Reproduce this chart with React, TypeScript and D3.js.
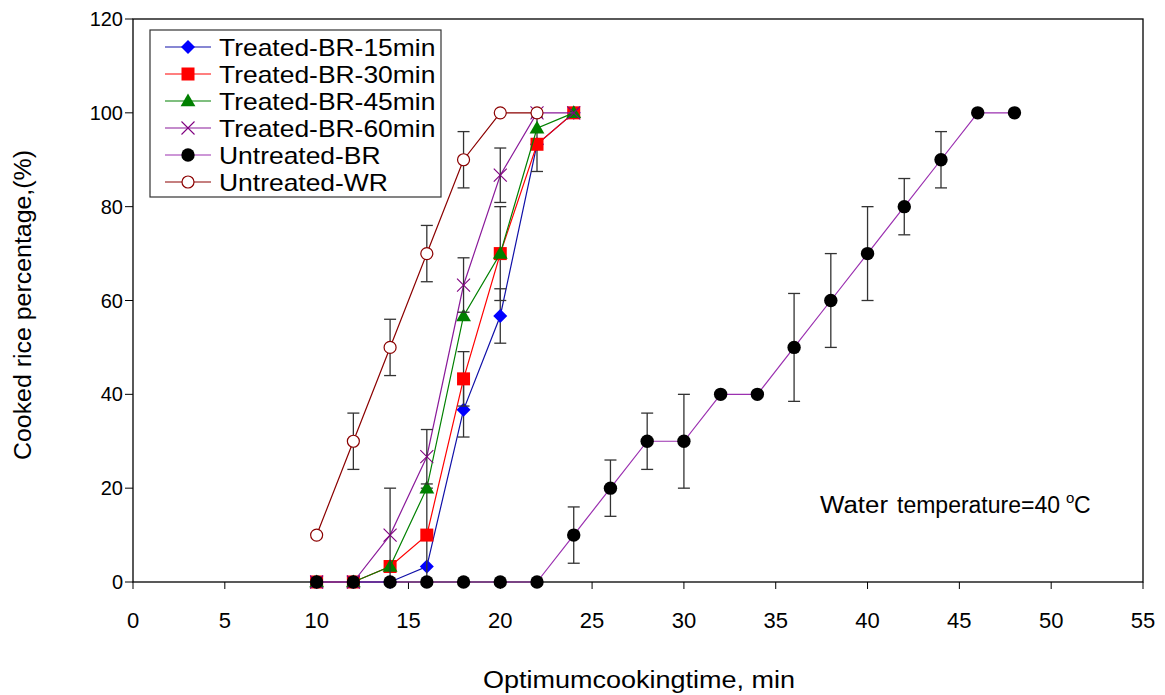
import React from 'react';
import * as d3 from 'd3';

// cooking time (min) for each series
const treatedTimes = [10, 12, 14, 16, 18, 20, 22, 24];
const wrTimes = [10, 12, 14, 16, 18, 20, 22];
const brTimes = [10, 12, 14, 16, 18, 20, 22, 24, 26, 28, 30, 32, 34, 36, 38, 40, 42, 44, 46, 48];

// cooked rice percentage and error (+/-)
const br15 = [0, 0, 0, 3.3, 36.7, 56.7, 93.3, 100];
const br15Err = [0, 0, 0, 0, 5.8, 5.8, 0, 0];
const br30 = [0, 0, 3.3, 10, 43.3, 70, 93.3, 100];
const br30Err = [0, 0, 0, 10, 5.8, 10, 5.8, 0];
const br45 = [0, 0, 3.3, 20, 56.7, 70, 96.7, 100];
const br45Err = [0, 0, 0, 0, 0, 0, 0, 0];
const br60 = [0, 0, 10, 26.7, 63.3, 86.7, 100, 100];
const br60Err = [0, 0, 10, 5.8, 5.8, 5.8, 0, 0];
const untreatedBR = [0, 0, 0, 0, 0, 0, 0, 10, 20, 30, 30, 40, 40, 50, 60, 70, 80, 90, 100, 100];
const untreatedBRErr = [0, 0, 0, 0, 0, 0, 0, 6, 6, 6, 10, 0, 0, 11.5, 10, 10, 6, 6, 0, 0];
const untreatedWR = [10, 30, 50, 70, 90, 100, 100];
const untreatedWRErr = [0, 6, 6, 6, 6, 0, 0];

const xTicks = [0, 5, 10, 15, 20, 25, 30, 35, 40, 45, 50, 55];
const yTicks = [0, 20, 40, 60, 80, 100, 120];

const series = [
  { name: 'Treated-BR-15min', x: treatedTimes, y: br15, err: br15Err, line: '#1010a8', color: '#0000ff', marker: 'diamond' },
  { name: 'Treated-BR-30min', x: treatedTimes, y: br30, err: br30Err, line: '#ff0000', color: '#ff0000', marker: 'square' },
  { name: 'Treated-BR-45min', x: treatedTimes, y: br45, err: br45Err, line: '#008000', color: '#008000', marker: 'triangle' },
  { name: 'Treated-BR-60min', x: treatedTimes, y: br60, err: br60Err, line: '#8a1a9a', color: '#800080', marker: 'cross' },
  { name: 'Untreated-BR', x: brTimes, y: untreatedBR, err: untreatedBRErr, line: '#9b30b0', color: '#000000', marker: 'dot' },
  { name: 'Untreated-WR', x: wrTimes, y: untreatedWR, err: untreatedWRErr, line: '#8b0000', color: '#8b0000', marker: 'ring' },
];

const drawOrder = [0, 1, 2, 3, 5, 4];

function Marker({ kind, cx, cy, color }: { kind: string; cx: number; cy: number; color: string }) {
  if (kind === 'diamond') {
    return <path d={`M${cx},${cy - 7}L${cx + 7},${cy}L${cx},${cy + 7}L${cx - 7},${cy}Z`} fill={color} />;
  }
  if (kind === 'square') {
    return <rect x={cx - 6.5} y={cy - 6.5} width={13} height={13} fill={color} />;
  }
  if (kind === 'triangle') {
    const tri = d3.symbol().type(d3.symbolTriangle).size(95)();
    return <path d={tri as string} transform={`translate(${cx},${cy + 1})`} fill={color} />;
  }
  if (kind === 'cross') {
    return (
      <g stroke={color} strokeWidth={1.1}>
        <line x1={cx - 6.5} y1={cy - 6.5} x2={cx + 6.5} y2={cy + 6.5} />
        <line x1={cx - 6.5} y1={cy + 6.5} x2={cx + 6.5} y2={cy - 6.5} />
      </g>
    );
  }
  if (kind === 'dot') {
    return <circle cx={cx} cy={cy} r={6.7} fill={color} />;
  }
  return <circle cx={cx} cy={cy} r={6} fill="#fff" stroke={color} strokeWidth={1.2} />;
}

export default function App() {
  const left = 133, right = 1143, top = 19, bottom = 582;
  const x = d3.scaleLinear().domain([0, 55]).range([left, right]);
  const y = d3.scaleLinear().domain([0, 120]).range([bottom, top]);
  const line = d3.line<[number, number]>().x(d => x(d[0])).y(d => y(d[1]));
  const font = 'Arial, "Liberation Sans", sans-serif';

  return (
    <svg width={1165} height={695} style={{ position: 'absolute', left: 0, top: 0, background: '#fff' }} fontFamily={font}>
      <rect x={0} y={0} width={1165} height={695} fill="#fff" />
      {/* frame */}
      <rect x={left} y={top} width={right - left} height={bottom - top} fill="none" stroke="#000" strokeWidth={1.3} />

      {/* x axis ticks */}
      {xTicks.map(t => (
        <g key={'x' + t}>
          <line x1={x(t)} x2={x(t)} y1={bottom} y2={bottom + 7} stroke="#000" />
          <text x={x(t)} y={628} textAnchor="middle" fontSize={22}>{t}</text>
        </g>
      ))}
      {yTicks.map(t => (
        <g key={'y' + t}>
          <line x1={left - 8} x2={left} y1={y(t)} y2={y(t)} stroke="#000" />
          <text x={123} y={y(t) + 7} textAnchor="end" fontSize={20}>{t}</text>
        </g>
      ))}

      <text x={639} y={688} textAnchor="middle" fontSize={23} textLength={312} lengthAdjust="spacingAndGlyphs">
        Optimumcookingtime, min
      </text>
      <text transform="translate(31,305) rotate(-90)" textAnchor="middle" fontSize={23} textLength={310} lengthAdjust="spacingAndGlyphs">
        Cooked rice percentage,(%)
      </text>

      {/* series */}
      {drawOrder.map(i => {
        const s = series[i];
        const pts = s.x.map((t, k) => [t, s.y[k]] as [number, number]);
        return (
          <g key={s.name}>
            <path d={line(pts) as string} fill="none" stroke={s.line} strokeWidth={1.2} />
            {pts.map((p, k) =>
              s.err[k] > 0 ? (
                <g key={'e' + k} stroke="#333" strokeWidth={1.3}>
                  <line x1={x(p[0])} x2={x(p[0])} y1={y(p[1] + s.err[k])} y2={y(p[1] - s.err[k])} />
                  <line x1={x(p[0]) - 6} x2={x(p[0]) + 6} y1={y(p[1] + s.err[k])} y2={y(p[1] + s.err[k])} />
                  <line x1={x(p[0]) - 6} x2={x(p[0]) + 6} y1={y(p[1] - s.err[k])} y2={y(p[1] - s.err[k])} />
                </g>
              ) : null
            )}
            {pts.map((p, k) => (
              <Marker key={'m' + k} kind={s.marker} cx={x(p[0])} cy={y(p[1])} color={s.color} />
            ))}
          </g>
        );
      })}

      {/* legend */}
      <rect x={150} y={30} width={291} height={167} fill="#fff" stroke="#333" strokeWidth={1.2} />
      {series.map((s, i) => {
        const cy = 47 + i * 27;
        return (
          <g key={'leg' + s.name}>
            <line x1={165} x2={211} y1={cy} y2={cy} stroke={s.line} strokeWidth={1.2} />
            <Marker kind={s.marker} cx={188} cy={cy} color={s.color} />
            <text transform={`translate(219,${cy + 8.5}) scale(1.15,1)`} fontSize={23}>{s.name}</text>
          </g>
        );
      })}

      <g fontSize={23}>
        <text x={820} y={513} textLength={68} lengthAdjust="spacingAndGlyphs">Water</text>
        <text x={897} y={513}>temperature=40</text>
        <text x={1066} y={503} fontSize={15}>o</text>
        <text x={1074} y={513}>C</text>
      </g>
    </svg>
  );
}
